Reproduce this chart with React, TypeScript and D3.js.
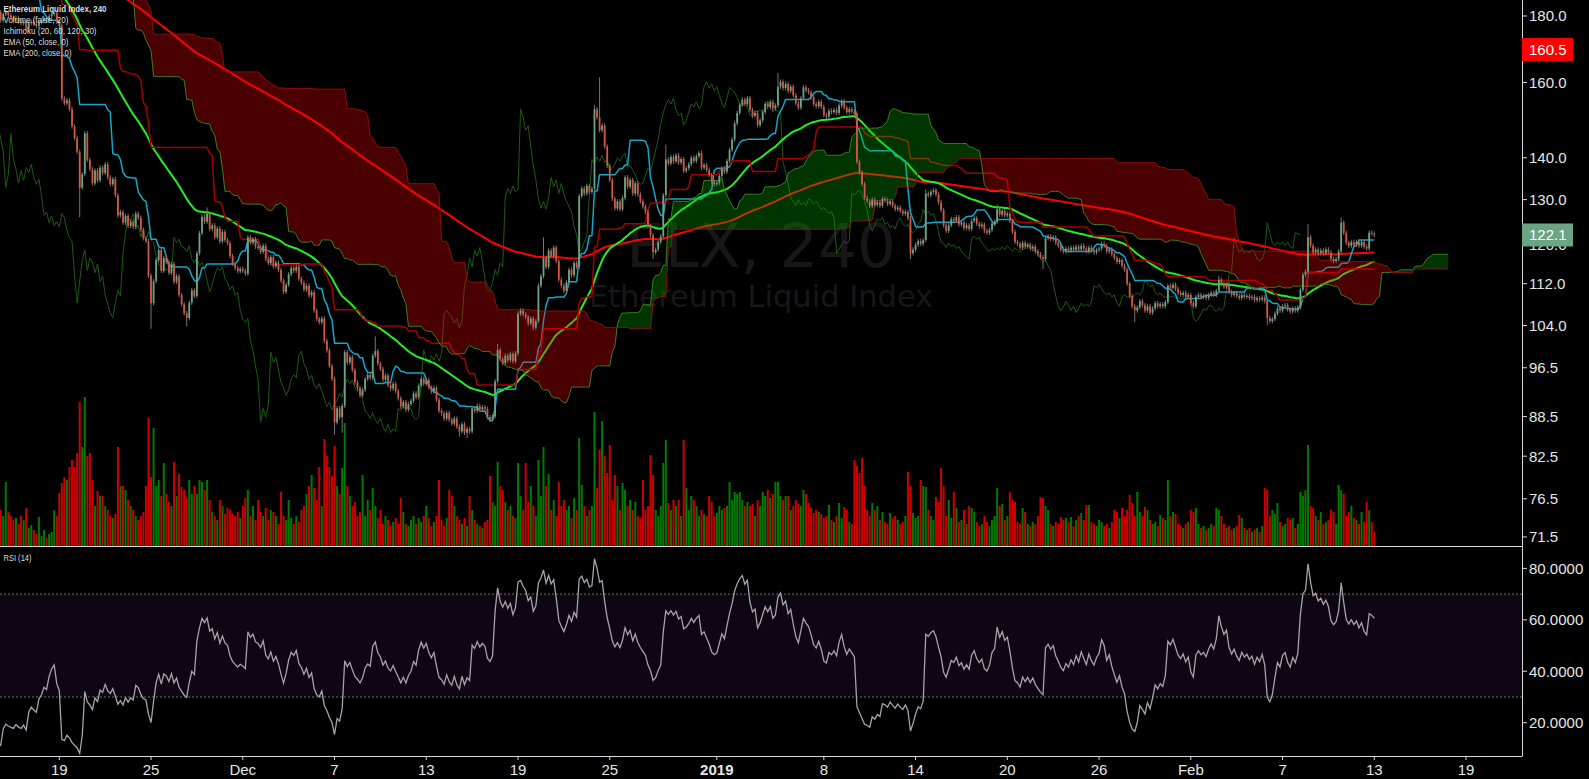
import React, { useEffect, useRef } from 'react';
import * as d3 from 'd3';

const WIDTH = 1589;
const HEIGHT = 779;

// 4h bars; the first 150 sit left of the visible range and only feed the indicators
const FIRST_BAR = Date.UTC(2018, 9, 21, 4);
const BAR_MS = 4 * 3600 * 1000;

const warmupCloses = [
  206.2, 206.8, 205.9, 206.5, 207.1,
  206.4, 205.8, 206.2, 205.1, 205.6, 204.9,
  204.2, 203.6, 204.5, 203.8, 203.2, 204.0,
  204.8, 205.2, 204.6, 205.8, 204.9, 204.3,
  203.9, 204.4, 203.5, 203.1, 203.8, 203.4,
  203.0, 203.6, 204.2, 203.5, 202.8, 203.3,
  203.9, 204.5, 204.0, 204.8, 204.2, 204.6,
  204.1, 204.7, 204.3, 203.8, 204.4, 204.0,
  204.6, 203.2, 200.4, 196.8, 197.5, 196.2,
  196.9, 197.6, 196.4, 197.2, 197.9, 197.1,
  196.5, 197.3, 198.2, 197.6, 198.8, 198.0,
  198.6, 199.4, 200.1, 199.3, 200.6, 200.2,
  201.4, 202.8, 203.6, 202.9, 203.8, 203.1,
  202.5, 201.8, 202.4, 201.2, 201.8, 201.0,
  201.6, 203.8, 206.5, 209.8, 210.6, 211.4,
  210.2, 209.1, 208.4, 209.3, 208.0, 208.7,
  209.4, 210.8, 213.6, 216.8, 217.5, 218.2,
  217.6, 219.4, 220.1, 218.8, 217.2, 216.4,
  215.3, 214.2, 213.6, 212.4, 211.8, 212.6,
  211.5, 210.4, 209.8, 210.6, 209.3, 210.1,
  210.8, 211.4, 212.2, 211.6, 212.4, 211.8,
  211.2, 212.0, 211.4, 210.6, 211.2, 210.7,
  210.2, 209.6, 210.3, 211.0, 211.8, 212.0,
  200.8, 199.6, 200.4, 201.2, 199.8, 200.6,
  200.2, 199.4, 197.6, 187.0, 185.8, 183.6,
  181.2,
];

// visible closes, 15 Nov 04:00 .. 13 Feb 00:00 (one line per day)
const closes = [
  178.6, 180.6, 181.2, 180.2, 179.5,
  179.0, 179.4, 178.3, 177.7, 178.0, 176.0,
  177.7, 178.2, 177.4, 176.8, 178.0, 178.4,
  179.1, 178.7, 179.9, 180.6, 181.0, 178.2,
  176.9, 155.5, 154.2, 155.0, 152.6, 148.0,
  145.0, 141.5, 132.8, 136.0, 146.2, 139.5,
  137.2, 133.8, 136.9, 134.5, 137.6, 136.3,
  138.4, 135.2, 133.6, 134.8, 131.0, 126.4,
  127.2, 124.8, 126.3, 124.1, 125.0, 123.9,
  126.8, 125.9, 123.2, 121.4, 120.8, 113.6,
  108.2, 112.5, 116.8, 118.9, 114.6, 117.2,
  116.4, 114.2, 116.0, 112.4, 113.5, 109.8,
  108.0, 106.3, 105.4, 108.3, 110.7, 109.6,
  118.2, 122.5, 126.1, 125.0, 126.8, 123.4,
  124.2, 121.6, 123.5, 120.7, 122.8, 121.0,
  120.4, 117.6, 116.0, 115.2, 114.5, 115.0,
  114.6, 114.0, 121.6, 120.4, 121.2, 119.6,
  119.3, 118.5, 119.8, 117.0, 116.2, 117.4,
  115.5, 116.3, 114.8, 112.6, 110.4, 111.8,
  113.9, 115.2, 114.6, 115.4, 113.0, 112.2,
  110.8, 111.6, 109.7, 110.3, 106.8, 105.2,
  104.6, 105.3, 101.2, 99.5, 96.8, 94.6,
  87.6, 89.8, 88.4, 90.2, 99.2, 97.4,
  98.3, 96.1, 94.0, 93.1, 91.9, 92.8,
  94.6, 95.3, 94.8, 98.6, 99.4, 97.2,
  96.3, 94.5, 95.2, 93.6, 93.0, 93.8,
  92.6, 91.4, 90.1, 90.8, 89.6, 90.5,
  91.0, 92.2, 91.6, 93.5, 94.6, 93.8,
  94.4, 93.2, 92.5, 93.1, 91.2, 89.4,
  89.0, 88.2, 89.1, 88.0, 87.4, 88.2,
  86.9, 86.2, 87.3, 86.0, 86.6, 86.2,
  89.8, 89.4, 90.2, 89.6, 90.0, 89.7,
  88.4, 88.0, 88.5, 94.2, 99.6, 98.0,
  97.3, 98.6, 97.8, 98.9, 97.6, 99.0,
  106.2, 106.8, 106.1, 105.6, 104.4, 105.3,
  103.6, 104.8, 111.6, 113.5, 117.2, 115.4,
  118.8, 117.6, 119.4, 116.6, 112.8, 111.6,
  110.6, 112.3, 114.8, 113.7, 116.2, 115.4,
  130.8, 132.6, 131.4, 133.2, 131.8, 132.5,
  152.6, 150.4, 147.0, 148.2, 142.8, 138.0,
  134.6, 130.2, 128.0, 129.6, 127.8, 130.4,
  135.2, 133.0, 134.6, 131.4, 133.8, 131.2,
  129.6, 128.4, 127.2, 124.0, 122.0, 118.4,
  119.0, 120.6, 121.8, 131.0, 139.6, 138.6,
  140.2, 139.1, 140.6, 138.8, 139.7, 136.8,
  137.4, 138.4, 140.0, 139.2, 140.4, 141.2,
  137.6, 138.2, 137.0, 135.8, 134.2, 133.6,
  133.9, 135.6, 137.4, 136.6, 139.2, 142.0,
  144.6, 148.8, 151.6, 153.8, 155.2, 154.0,
  155.6, 152.4, 150.8, 151.6, 148.4, 149.6,
  151.8, 154.0, 153.2, 154.6, 152.8, 153.6,
  158.8, 160.2, 158.4, 159.6, 157.6, 158.8,
  156.4, 154.2, 153.0, 155.6, 158.6, 157.8,
  157.2, 155.8, 154.0, 153.4, 154.6, 153.2,
  151.0, 150.6, 152.2, 151.8, 152.4, 151.6,
  153.6, 154.8, 153.0, 151.8, 152.6, 152.0,
  151.4, 139.0, 136.4, 133.6, 130.4, 129.6,
  128.6, 130.0, 128.8, 129.4, 128.6, 130.2,
  129.8, 129.0, 129.6, 128.6, 127.8, 128.2,
  127.4, 126.8, 127.2, 125.8, 118.2, 119.0,
  120.0, 120.8, 120.2, 121.0, 131.4, 131.0,
  131.8, 132.2, 131.2, 129.4, 127.6, 124.2,
  123.0, 124.2, 125.6, 125.2, 126.0, 124.4,
  124.8, 123.6, 124.2, 123.4, 125.2, 125.8,
  124.6, 124.0, 124.4, 123.0, 122.6, 123.2,
  124.6, 125.0, 127.8, 126.6, 127.4, 126.4,
  126.8, 125.2, 122.8, 120.6, 120.2, 119.4,
  120.4, 119.6, 120.0, 119.2, 119.6, 118.6,
  118.0, 117.4, 117.0, 121.4, 121.8, 121.2,
  121.6, 120.4, 119.8, 119.0, 118.6, 119.2,
  118.8, 119.4, 118.9, 119.6, 119.0, 119.8,
  119.2, 118.6, 119.4, 118.8, 118.4, 118.9,
  119.2, 120.2, 119.8, 118.6, 119.0, 118.0,
  117.2, 116.4, 116.8, 115.6, 114.8, 112.0,
  109.6, 107.6, 106.8, 107.4, 108.6, 107.8,
  106.8, 107.6, 106.4, 107.2, 108.2, 107.6,
  108.0, 107.6, 108.4, 111.6, 111.2, 111.8,
  111.0, 110.2, 109.8, 110.2, 109.4, 109.8,
  108.2, 107.6, 109.4, 109.8, 109.4, 109.6,
  109.2, 109.8, 110.2, 109.8, 110.6, 112.8,
  112.0, 111.4, 111.8, 110.4, 109.8, 110.2,
  109.6, 109.2, 109.8, 109.4, 109.6, 109.2,
  109.4, 108.8, 109.2, 108.9, 109.3, 108.6,
  105.4, 104.8, 105.2, 106.2, 107.2, 106.8,
  107.6, 107.8, 107.0, 106.6, 107.2, 106.8,
  107.4, 110.8, 113.8, 114.4, 121.6, 119.8,
  118.4, 119.0, 118.2, 118.8, 118.2, 119.0,
  118.4, 117.0, 116.6, 117.0, 118.6, 124.8,
  122.6, 120.4, 119.8, 120.6, 120.0, 120.6,
  119.8, 120.6, 119.6, 119.2, 122.6, 122.4,
  122.1,
];

const volumes = [
  36, 30, 64, 34, 30,
  26, 28, 22, 30, 26, 38,
  18, 21, 16, 12, 29, 10,
  16, 8, 12, 14, 36, 30,
  53, 63, 69, 66, 79, 86,
  79, 93, 144, 99, 149, 90,
  93, 66, 40, 55, 50, 50,
  40, 36, 30, 28, 32, 99,
  60, 60, 56, 46, 40, 36,
  30, 26, 30, 34, 60, 128,
  69, 118, 60, 66, 50, 83,
  52, 44, 40, 84, 50, 72,
  59, 56, 48, 66, 52, 60,
  52, 66, 64, 56, 66, 46,
  34, 30, 26, 46, 40, 32,
  38, 36, 32, 30, 34, 28,
  40, 48, 56, 30, 40, 26,
  46, 34, 30, 38, 26, 36,
  34, 30, 22, 54, 30, 26,
  46, 28, 22, 30, 24, 36,
  40, 52, 60, 71, 58, 46,
  79, 40, 107, 90, 79, 70,
  100, 60, 52, 78, 123, 60,
  50, 40, 44, 30, 34, 71,
  30, 46, 36, 58, 40, 28,
  36, 22, 30, 26, 20, 24,
  28, 22, 48, 34, 22, 20,
  26, 30, 22, 28, 24, 30,
  40, 28, 20, 24, 30, 66,
  26, 20, 28, 56, 50, 40,
  30, 26, 22, 28, 20, 50,
  36, 26, 22, 20, 18, 24,
  26, 70, 44, 40, 84, 60,
  56, 44, 36, 40, 30, 28,
  83, 50, 36, 83, 44, 60,
  40, 30, 86, 50, 99, 60,
  72, 36, 46, 30, 64, 40,
  46, 36, 40, 28, 48, 36,
  108, 61, 40, 30, 36, 40,
  134, 58, 96, 125, 90, 73,
  101, 46, 71, 60, 36, 63,
  56, 40, 46, 36, 44, 30,
  28, 66, 36, 40, 91, 71,
  36, 30, 40, 83, 106, 43,
  36, 46, 40, 46, 30, 106,
  58, 36, 50, 46, 40, 30,
  36, 32, 30, 50, 44, 30,
  33, 40, 36, 38, 40, 64,
  46, 54, 52, 54, 46, 40,
  44, 40, 42, 30, 46, 40,
  54, 50, 56, 48, 52, 64,
  64, 50, 46, 50, 50, 36,
  40, 46, 42, 40, 56, 52,
  43, 38, 33, 36, 34, 32,
  28, 30, 41, 26, 24, 30,
  43, 28, 39, 36, 24, 22,
  86, 80, 73, 88, 60, 36,
  30, 43, 36, 40, 26, 34,
  24, 22, 33, 28, 30, 26,
  22, 24, 30, 74, 60, 33,
  28, 30, 66, 60, 59, 36,
  30, 26, 49, 44, 78, 60,
  30, 46, 28, 54, 38, 24,
  26, 36, 22, 40, 38, 34,
  24, 20, 22, 30, 24, 20,
  26, 30, 58, 40, 42, 26,
  30, 54, 46, 44, 24, 22,
  38, 34, 22, 20, 24, 22,
  30, 49, 48, 40, 36, 22,
  20, 24, 22, 29, 26, 28,
  24, 29, 20, 26, 30, 33,
  26, 41, 41, 24, 22, 20,
  26, 24, 20, 22, 18, 24,
  36, 34, 28, 38, 30, 36,
  51, 43, 30, 54, 34, 30,
  39, 36, 26, 22, 24, 20,
  31, 28, 26, 66, 30, 34,
  32, 22, 20, 18, 22, 24,
  36, 34, 38, 22, 18, 20,
  16, 18, 22, 20, 38, 36,
  30, 22, 18, 20, 16, 18,
  20, 31, 28, 18, 16, 18,
  14, 16, 18, 14, 20, 58,
  56, 30, 36, 32, 43, 24,
  20, 22, 28, 26, 28, 18,
  22, 54, 50, 56, 101, 40,
  38, 30, 26, 34, 22, 24,
  26, 36, 34, 22, 61, 56,
  52, 30, 34, 40, 28, 26,
  22, 34, 24, 44, 36, 24,
  14,
];

// wicks that reach well past the body: [bar index, price]
const highMarks: [number, number][] = [
  [103, 222.6], [231, 128.2], [297, 102.0], [345, 100.6], [363, 121.6],
  [383, 153.8], [385, 161.5], [411, 143.3], [455, 162.7], [513, 132.4], [541, 128.9],
  [628, 113.6], [663, 124.5], [676, 125.9],
];
const lowMarks: [number, number][] = [
  [181, 126.0], [209, 103.4], [223, 103.8], [281, 85.7], [284, 86.0], [330, 85.4],
  [333, 85.2], [406, 117.0], [507, 117.0], [559, 114.9], [595, 104.6], [647, 104.0],
];
const WICK = 0.004;

const priceTicks = [71.5, 76.5, 82.5, 88.5, 96.5, 104, 112, 120, 130, 140, 160, 180];
const rsiTicks = [20, 40, 60, 80];
const timeTickDates = [
  Date.UTC(2018, 10, 19), Date.UTC(2018, 10, 25), Date.UTC(2018, 11, 1), Date.UTC(2018, 11, 7),
  Date.UTC(2018, 11, 13), Date.UTC(2018, 11, 19), Date.UTC(2018, 11, 25), Date.UTC(2019, 0, 1),
  Date.UTC(2019, 0, 8), Date.UTC(2019, 0, 14), Date.UTC(2019, 0, 20), Date.UTC(2019, 0, 26),
  Date.UTC(2019, 1, 1), Date.UTC(2019, 1, 7), Date.UTC(2019, 1, 13), Date.UTC(2019, 1, 19),
];
const timeTickLabels = ['19', '25', 'Dec', '7', '13', '19', '25', '2019', '8', '14', '20', '26', 'Feb', '7', '13', '19'];
const legendLines = [
  'Ethereum Liquid Index, 240',
  'Volume (false, 20)',
  'Ichimoku (20, 60, 120, 30)',
  'EMA (50, close, 0)',
  'EMA (200, close, 0)',
];
const legendWidths = [103, 65, 93, 65, 68];
const lastPrice = 122.1;
const alertLabel = '160.5';
const alertLevel = 169.6;

type Bar = { i: number; t: Date; o: number; c: number; h: number; l: number };
type Pt = { t: Date; v: number };

const App: React.FC = () => {
  const svgRef = useRef<SVGSVGElement>(null);

  useEffect(() => {
    if (!svgRef.current) return;
    const svg = d3.select(svgRef.current);
    svg.selectAll('*').remove();

    const plotR = 1522;
    const mainB = 546;
    const rsiB = 756;
    const SHIFT = 29;

    const allC = [...warmupCloses, ...closes];
    const n = allC.length;
    const off = warmupCloses.length;
    const timeAt = (i: number) => new Date(FIRST_BAR + i * BAR_MS);

    const bars: Bar[] = allC.map((c, i) => {
      const o = i === 0 ? c : allC[i - 1];
      return { i, t: timeAt(i), o, c, h: Math.max(o, c) * (1 + WICK), l: Math.min(o, c) * (1 - WICK) };
    });
    highMarks.forEach(([i, v]) => { bars[i].h = Math.max(bars[i].h, v); });
    lowMarks.forEach(([i, v]) => { bars[i].l = Math.min(bars[i].l, v); });

    // indicators
    const donchian = (len: number) => bars.map((_, i) => {
      if (i < len - 1) return NaN;
      let hi = -Infinity;
      let lo = Infinity;
      for (let k = i - len + 1; k <= i; k++) {
        hi = Math.max(hi, bars[k].h);
        lo = Math.min(lo, bars[k].l);
      }
      return (hi + lo) / 2;
    });
    const tenkan = donchian(20);
    const kijun = donchian(60);
    const spanB = donchian(120);
    const spanA = tenkan.map((t, i) => (t + kijun[i]) / 2);

    const ema = (len: number) => {
      const a = 2 / (len + 1);
      let e = allC[0];
      return allC.map(c => (e = e + a * (c - e)));
    };
    const ema50 = ema(50);
    const ema200 = ema(200);

    const rsi: number[] = new Array(n).fill(NaN);
    let ag = 0;
    let al = 0;
    for (let i = 1; i < n; i++) {
      const ch = allC[i] - allC[i - 1];
      const g = Math.max(ch, 0);
      const l = Math.max(-ch, 0);
      if (i <= 14) {
        ag += g / 14;
        al += l / 14;
        if (i === 14) rsi[i] = 100 - 100 / (1 + ag / al);
      } else {
        ag = (ag * 13 + g) / 14;
        al = (al * 13 + l) / 14;
        rsi[i] = al === 0 ? 100 : 100 - 100 / (1 + ag / al);
      }
    }

    // scales
    const x = d3.scaleUtc()
      .domain([new Date(Date.UTC(2018, 10, 19)), new Date(Date.UTC(2019, 1, 13))])
      .range([59.3, 1374.3]);
    const y = d3.scaleLog().domain([70.36, 185.17]).range([mainB, 0]);
    const yRsi = d3.scaleLinear().domain([7.06, 88.7]).range([rsiB, mainB]);
    const volH = d3.scaleLinear().domain([0, d3.max(volumes) as number]).range([0, 149]);

    const defs = svg.append('defs');
    defs.append('clipPath').attr('id', 'clip-main')
      .append('rect').attr('x', 0).attr('y', 0).attr('width', plotR).attr('height', mainB);
    defs.append('clipPath').attr('id', 'clip-rsi')
      .append('rect').attr('x', 0).attr('y', mainB).attr('width', plotR).attr('height', rsiB - mainB);

    svg.append('rect').attr('width', WIDTH).attr('height', HEIGHT).attr('fill', '#000');

    // watermark
    const wm = svg.append('g')
      .attr('fill', '#171717')
      .attr('text-anchor', 'middle')
      .style('font-family', '"DejaVu Sans", sans-serif');
    wm.append('text').attr('x', plotR / 2).attr('y', 267).style('font-size', '61px').text('ELX, 240');
    wm.append('text').attr('x', plotR / 2).attr('y', 307).style('font-size', '30.5px').text('Ethereum Liquid Index');

    const main = svg.append('g').attr('clip-path', 'url(#clip-main)');
    const visible = bars.slice(off);

    // volume
    main.append('g').selectAll('rect')
      .data(visible)
      .join('rect')
      .attr('x', d => x(d.t) - 1)
      .attr('width', 2)
      .attr('y', d => mainB - volH(volumes[d.i - off]))
      .attr('height', d => volH(volumes[d.i - off]))
      .attr('fill', d => (d.c >= d.o ? '#007a00' : '#cc0000'));

    const linePath = d3.line<Pt>()
      .defined(d => Number.isFinite(d.v))
      .x(d => x(d.t))
      .y(d => y(d.v));
    const series = (vals: number[], shift = 0): Pt[] => vals.map((v, i) => ({ t: timeAt(i + shift), v }));

    const drawLine = (pts: Pt[], color: string, width: number) => {
      main.append('path')
        .datum(pts)
        .attr('d', linePath)
        .attr('fill', 'none')
        .attr('stroke', color)
        .attr('stroke-width', width)
        .attr('stroke-linejoin', 'round');
    };

    drawLine(series(allC, -SHIFT), '#1d5a13', 1);
    drawLine(series(ema200), '#ff0000', 2);
    drawLine(series(ema50), '#22ee22', 2);
    drawLine(series(tenkan), '#12a8c9', 1.5);
    drawLine(series(kijun), '#a60000', 1.5);

    // cloud
    const cloud = d3.range(n).map(i => ({ t: timeAt(i + SHIFT), a: spanA[i], b: spanB[i] }))
      .filter(d => Number.isFinite(d.a) && Number.isFinite(d.b));
    type C = typeof cloud[number];
    main.append('path')
      .datum(cloud)
      .attr('d', d3.area<C>().x(d => x(d.t)).y0(d => y(d.b)).y1(d => y(Math.max(d.a, d.b))))
      .attr('fill', 'rgba(0,190,0,0.28)');
    main.append('path')
      .datum(cloud)
      .attr('d', d3.area<C>().x(d => x(d.t)).y0(d => y(d.a)).y1(d => y(Math.max(d.a, d.b))))
      .attr('fill', 'rgba(255,0,0,0.29)');
    drawLine(cloud.map(d => ({ t: d.t, v: d.a })), '#3b7f1d', 1);
    drawLine(cloud.map(d => ({ t: d.t, v: d.b })), '#900e0e', 1);

    // candles
    const cg = main.append('g');
    cg.selectAll('line')
      .data(visible)
      .join('line')
      .attr('x1', d => x(d.t))
      .attr('x2', d => x(d.t))
      .attr('y1', d => y(d.h))
      .attr('y2', d => y(d.l))
      .attr('stroke', '#737375')
      .attr('stroke-width', 1);
    cg.selectAll('rect')
      .data(visible)
      .join('rect')
      .attr('x', d => x(d.t) - 0.9)
      .attr('width', 1.8)
      .attr('y', d => y(Math.max(d.o, d.c)))
      .attr('height', d => Math.max(1, y(Math.min(d.o, d.c)) - y(Math.max(d.o, d.c))))
      .attr('fill', d => (d.c >= d.o ? '#6ba583' : '#d75442'));

    // RSI pane
    const rp = svg.append('g').attr('clip-path', 'url(#clip-rsi)');
    rp.append('rect')
      .attr('x', 0).attr('width', plotR)
      .attr('y', yRsi(70)).attr('height', yRsi(30) - yRsi(70))
      .attr('fill', '#0f0614');
    [70, 30].forEach(v => {
      rp.append('line')
        .attr('x1', 0).attr('x2', plotR)
        .attr('y1', yRsi(v)).attr('y2', yRsi(v))
        .attr('stroke', '#707070')
        .attr('stroke-width', 1)
        .attr('stroke-dasharray', '2,2');
    });
    rp.append('path')
      .datum(series(rsi))
      .attr('d', d3.line<Pt>().defined(d => Number.isFinite(d.v)).x(d => x(d.t)).y(d => yRsi(d.v)))
      .attr('fill', 'none')
      .attr('stroke', '#aaa1ab')
      .attr('stroke-width', 1.3);

    // frame
    const frame = svg.append('g').attr('stroke', '#d8d8d8').attr('stroke-width', 1);
    frame.append('line').attr('x1', plotR + 0.5).attr('x2', plotR + 0.5).attr('y1', 0).attr('y2', rsiB + 0.5);
    frame.append('line').attr('x1', 0).attr('x2', plotR).attr('y1', mainB + 0.5).attr('y2', mainB + 0.5);
    frame.append('line').attr('x1', 0).attr('x2', plotR).attr('y1', rsiB + 0.5).attr('y2', rsiB + 0.5);

    const axisFont = '"Liberation Sans", Arial, sans-serif';
    const fmt1 = d3.format('.1f');

    // price axis
    const pa = svg.append('g').style('font-family', axisFont).style('font-size', '15px');
    priceTicks.forEach(v => {
      pa.append('line')
        .attr('x1', plotR).attr('x2', plotR + 5)
        .attr('y1', y(v)).attr('y2', y(v))
        .attr('stroke', '#d8d8d8');
      pa.append('text').attr('x', 1529).attr('y', y(v) + 5.5).attr('fill', '#e6e6e6').text(fmt1(v));
    });
    rsiTicks.forEach(v => {
      pa.append('line')
        .attr('x1', plotR).attr('x2', plotR + 5)
        .attr('y1', yRsi(v)).attr('y2', yRsi(v))
        .attr('stroke', '#d8d8d8');
      pa.append('text').attr('x', 1529).attr('y', yRsi(v) + 5.5).attr('fill', '#e6e6e6').text(v.toFixed(4));
    });

    // price badges (the last-price badge covers most of the 120.0 label, as on the original)
    const badge = (level: number, label: string, color: string) => {
      pa.append('rect')
        .attr('x', plotR).attr('width', 51)
        .attr('y', y(level) - 11.5).attr('height', 23)
        .attr('fill', color);
      pa.append('text').attr('x', 1529).attr('y', y(level) + 5.5).attr('fill', '#ffffff').text(label);
    };
    badge(alertLevel, alertLabel, '#ff0000');
    badge(lastPrice, fmt1(lastPrice), '#6ba583');

    // time axis
    const ta = svg.append('g').style('font-family', axisFont).style('font-size', '15px');
    timeTickDates.forEach((t, k) => {
      const px = x(new Date(t));
      ta.append('line')
        .attr('x1', px).attr('x2', px)
        .attr('y1', rsiB).attr('y2', rsiB + 4)
        .attr('stroke', '#d8d8d8');
      ta.append('text')
        .attr('x', px).attr('y', 775)
        .attr('text-anchor', 'middle')
        .attr('fill', '#e6e6e6')
        .style('font-weight', timeTickLabels[k] === '2019' ? 'bold' : 'normal')
        .text(timeTickLabels[k]);
    });

    // legends
    const lg = svg.append('g').style('font-family', axisFont).style('font-size', '9.5px').attr('fill', '#dedede');
    legendLines.forEach((s, k) => {
      lg.append('text')
        .attr('x', 3.5)
        .attr('y', 11.5 + k * 11)
        .attr('textLength', legendWidths[k])
        .attr('lengthAdjust', 'spacingAndGlyphs')
        .style('font-weight', k === 0 ? 'bold' : 'normal')
        .text(s);
    });
    lg.append('text')
      .attr('x', 3.5).attr('y', 561)
      .attr('textLength', 28)
      .attr('lengthAdjust', 'spacingAndGlyphs')
      .text('RSI (14)');
  }, []);

  return (
    <div style={{ width: WIDTH, height: HEIGHT, background: '#000' }}>
      <style>{'body{margin:0;background:#000;}'}</style>
      <svg ref={svgRef} width={WIDTH} height={HEIGHT} style={{ display: 'block' }} />
    </div>
  );
};

export default App;
